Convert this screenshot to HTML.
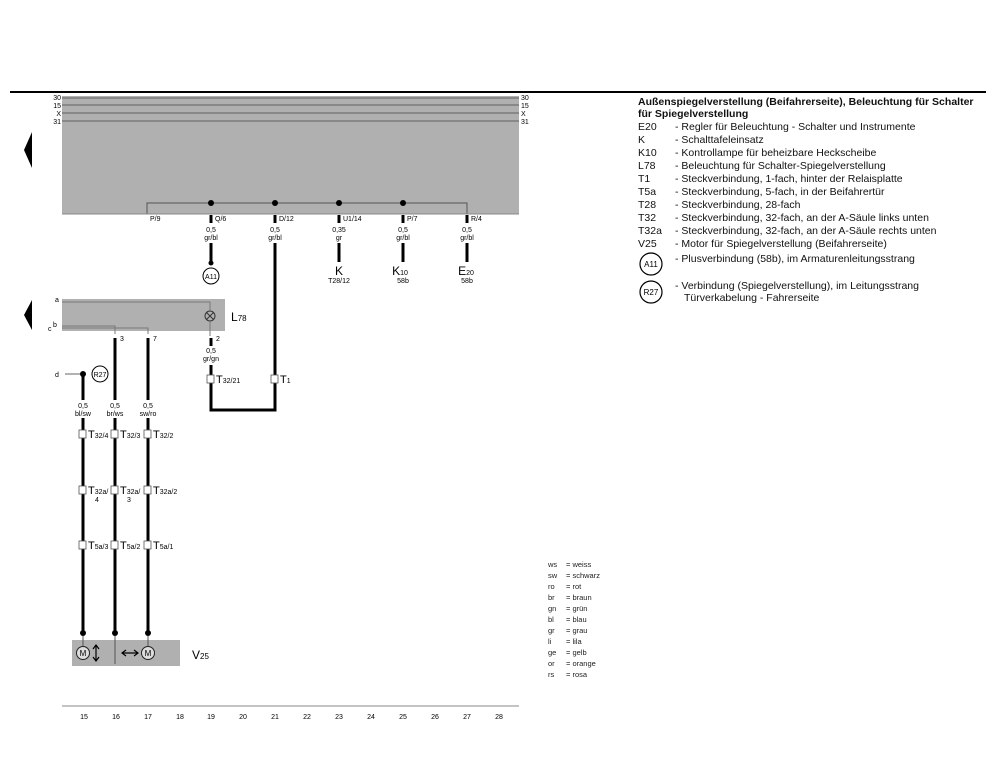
<!DOCTYPE html>
<html><head><meta charset="utf-8"><style>
html,body{margin:0;padding:0;background:#fff;}
svg{display:block;font-family:"Liberation Sans",sans-serif;}
</style></head><body>
<svg width="998" height="778" viewBox="0 0 998 778" xmlns="http://www.w3.org/2000/svg">
<rect x="10" y="91" width="976" height="2" fill="#000"/>
<rect x="62" y="96" width="457" height="118" fill="#b0b0b0"/>
<g stroke="#7a7a7a" stroke-width="1.5">
<line x1="62" y1="98" x2="519" y2="98"/><line x1="62" y1="105" x2="519" y2="105"/>
<line x1="62" y1="113" x2="519" y2="113"/><line x1="62" y1="121" x2="519" y2="121"/>
</g>
<g font-size="7" text-anchor="end">
<text x="61" y="100">30</text><text x="61" y="108">15</text><text x="61" y="116">X</text><text x="61" y="124">31</text>
</g>
<g font-size="7">
<text x="521" y="100">30</text><text x="521" y="108">15</text><text x="521" y="116">X</text><text x="521" y="124">31</text>
</g>
<polygon points="32,132 32,168 24,150" fill="#000"/>
<path d="M147,214 V203 H467 V214" fill="none" stroke="#555" stroke-width="1"/>
<g fill="#000"><circle cx="211" cy="203" r="3"/><circle cx="275" cy="203" r="3"/><circle cx="339" cy="203" r="3"/><circle cx="403" cy="203" r="3"/></g>
<line x1="62" y1="214" x2="519" y2="214" stroke="#888" stroke-width="1"/>
<g font-size="7">
<text x="150" y="221">P/9</text><text x="215" y="221">Q/6</text><text x="279" y="221">D/12</text>
<text x="343" y="221">U1/14</text><text x="407" y="221">P/7</text><text x="471" y="221">R/4</text>
</g>
<g stroke="#000" stroke-width="3">
<line x1="211" y1="215" x2="211" y2="223"/><line x1="275" y1="215" x2="275" y2="223"/>
<line x1="339" y1="215" x2="339" y2="223"/><line x1="403" y1="215" x2="403" y2="223"/>
<line x1="467" y1="215" x2="467" y2="223"/>
<line x1="211" y1="243" x2="211" y2="262"/>
<line x1="339" y1="243" x2="339" y2="262"/><line x1="403" y1="243" x2="403" y2="262"/>
<line x1="467" y1="243" x2="467" y2="262"/>
<line x1="211" y1="338" x2="211" y2="346"/>
</g>
<g font-size="7" text-anchor="middle">
<text x="211" y="232">0,5</text><text x="211" y="240">gr/bl</text>
<text x="275" y="232">0,5</text><text x="275" y="240">gr/bl</text>
<text x="339" y="232">0,35</text><text x="339" y="240">gr</text>
<text x="403" y="232">0,5</text><text x="403" y="240">gr/bl</text>
<text x="467" y="232">0,5</text><text x="467" y="240">gr/bl</text>
</g>
<circle cx="211" cy="263" r="2.5" fill="#000"/>
<circle cx="211" cy="276" r="8" fill="none" stroke="#000" stroke-width="1"/>
<text x="211" y="279" font-size="7" text-anchor="middle">A11</text>
<g text-anchor="middle">
<text x="339" y="275" font-size="12">K</text><text x="339" y="283" font-size="7">T28/12</text>
<text x="400" y="275" font-size="12">K<tspan font-size="7">10</tspan></text><text x="403" y="283" font-size="7">58b</text>
<text x="466" y="275" font-size="12">E<tspan font-size="7">20</tspan></text><text x="467" y="283" font-size="7">58b</text>
</g>
<path d="M275,243 V410 H211 V365" fill="none" stroke="#000" stroke-width="3"/>
<rect x="62" y="299" width="163" height="32" fill="#b0b0b0"/>
<polygon points="32,300 32,330 24,315" fill="#000"/>
<path d="M62,302 H210 V310" fill="none" stroke="#777" stroke-width="1"/>
<path d="M210,322 V336" fill="none" stroke="#777" stroke-width="1"/>
<path d="M62,326 H115 V334 M62,328 H148 V334" fill="none" stroke="#777" stroke-width="1"/>
<circle cx="210" cy="316" r="5" fill="none" stroke="#333" stroke-width="1"/>
<path d="M206.5,312.5 L213.5,319.5 M213.5,312.5 L206.5,319.5" stroke="#333" stroke-width="1"/>
<text x="231" y="321" font-size="12">L<tspan font-size="8">78</tspan></text>
<g font-size="7"><text x="55" y="302">a</text><text x="53" y="327">b</text><text x="48" y="331">c</text><text x="55" y="377">d</text>
<text x="120" y="341">3</text><text x="153" y="341">7</text><text x="216" y="341">2</text></g>
<g font-size="7" text-anchor="middle"><text x="211" y="353">0,5</text><text x="211" y="361">gr/gn</text></g>
<line x1="65" y1="374" x2="83" y2="374" stroke="#666" stroke-width="1"/>
<circle cx="83" cy="374" r="3" fill="#000"/>
<circle cx="100" cy="374" r="8" fill="none" stroke="#000" stroke-width="1"/>
<text x="100" y="377" font-size="7" text-anchor="middle">R27</text>
<g stroke="#000" stroke-width="3">
<line x1="83" y1="374" x2="83" y2="400"/><line x1="83" y1="418" x2="83" y2="633"/>
<line x1="115" y1="338" x2="115" y2="400"/><line x1="115" y1="418" x2="115" y2="633"/>
<line x1="148" y1="338" x2="148" y2="400"/><line x1="148" y1="418" x2="148" y2="633"/>
</g>
<g font-size="7" text-anchor="middle">
<text x="83" y="408">0,5</text><text x="83" y="416">bl/sw</text>
<text x="115" y="408">0,5</text><text x="115" y="416">br/ws</text>
<text x="148" y="408">0,5</text><text x="148" y="416">sw/ro</text>
</g>
<g fill="#fff" stroke="#555" stroke-width="0.8">
<rect x="79" y="430" width="7" height="8"/><rect x="111" y="430" width="7" height="8"/><rect x="144" y="430" width="7" height="8"/>
<rect x="79" y="486" width="7" height="8"/><rect x="111" y="486" width="7" height="8"/><rect x="144" y="486" width="7" height="8"/>
<rect x="79" y="541" width="7" height="8"/><rect x="111" y="541" width="7" height="8"/><rect x="144" y="541" width="7" height="8"/>
<rect x="207" y="375" width="7" height="8"/><rect x="271" y="375" width="7" height="8"/>
</g>
<g font-size="11">
<text x="88" y="438">T<tspan font-size="7">32/4</tspan></text>
<text x="120" y="438">T<tspan font-size="7">32/3</tspan></text>
<text x="153" y="438">T<tspan font-size="7">32/2</tspan></text>
<text x="88" y="494">T<tspan font-size="7">32a/</tspan></text>
<text x="120" y="494">T<tspan font-size="7">32a/</tspan></text>
<text x="153" y="494">T<tspan font-size="7">32a/2</tspan></text>
<text x="88" y="549">T<tspan font-size="7">5a/3</tspan></text>
<text x="120" y="549">T<tspan font-size="7">5a/2</tspan></text>
<text x="153" y="549">T<tspan font-size="7">5a/1</tspan></text>
<text x="216" y="383">T<tspan font-size="7">32/21</tspan></text>
<text x="280" y="383">T<tspan font-size="7">1</tspan></text>
</g>
<g font-size="7"><text x="95" y="502">4</text><text x="127" y="502">3</text></g>
<g fill="#000"><circle cx="83" cy="633" r="3"/><circle cx="115" cy="633" r="3"/><circle cx="148" cy="633" r="3"/></g>
<rect x="72" y="640" width="108" height="26" fill="#b0b0b0"/>
<line x1="115" y1="636" x2="115" y2="664" stroke="#555" stroke-width="1"/>
<line x1="83" y1="636" x2="83" y2="646" stroke="#555" stroke-width="1"/>
<line x1="148" y1="636" x2="148" y2="646" stroke="#555" stroke-width="1"/>
<circle cx="83" cy="653" r="6.5" fill="#ddd" stroke="#222" stroke-width="1"/>
<circle cx="148" cy="653" r="6.5" fill="#ddd" stroke="#222" stroke-width="1"/>
<g font-size="8" text-anchor="middle"><text x="83" y="656">M</text><text x="148" y="656">M</text></g>
<path d="M96,646 V660 M93,649 L96,645 L99,649 M93,657 L96,661 L99,657" fill="none" stroke="#000" stroke-width="1.2"/>
<path d="M123,653 H137 M126,650 L122,653 L126,656 M134,650 L138,653 L134,656" fill="none" stroke="#000" stroke-width="1.2"/>
<text x="192" y="659" font-size="12">V<tspan font-size="8">25</tspan></text>
<line x1="62" y1="706" x2="519" y2="706" stroke="#888" stroke-width="1"/>
<g font-size="7" text-anchor="middle">
<text x="84" y="719">15</text><text x="116" y="719">16</text><text x="148" y="719">17</text><text x="180" y="719">18</text>
<text x="211" y="719">19</text><text x="243" y="719">20</text><text x="275" y="719">21</text><text x="307" y="719">22</text>
<text x="339" y="719">23</text><text x="371" y="719">24</text><text x="403" y="719">25</text><text x="435" y="719">26</text>
<text x="467" y="719">27</text><text x="499" y="719">28</text>
</g>
<g font-size="7.5" fill="#222">
<text x="548" y="567">ws</text><text x="548" y="578">sw</text><text x="548" y="589">ro</text><text x="548" y="600">br</text>
<text x="548" y="611">gn</text><text x="548" y="622">bl</text><text x="548" y="633">gr</text><text x="548" y="644">li</text>
<text x="548" y="655">ge</text><text x="548" y="666">or</text><text x="548" y="677">rs</text>
<text x="566" y="567">=  weiss</text><text x="566" y="578">=  schwarz</text><text x="566" y="589">=  rot</text><text x="566" y="600">=  braun</text>
<text x="566" y="611">=  grün</text><text x="566" y="622">=  blau</text><text x="566" y="633">=  grau</text><text x="566" y="644">=  lila</text>
<text x="566" y="655">=  gelb</text><text x="566" y="666">=  orange</text><text x="566" y="677">=  rosa</text>
</g>
<g font-size="10.5" fill="#111">
<text x="638" y="105" font-weight="bold">Außenspiegelverstellung (Beifahrerseite), Beleuchtung für Schalter</text>
<text x="638" y="117" font-weight="bold">für Spiegelverstellung</text>
<text x="638" y="130">E20</text><text x="675" y="130">-  Regler für Beleuchtung - Schalter und Instrumente</text>
<text x="638" y="143">K</text><text x="675" y="143">-  Schalttafeleinsatz</text>
<text x="638" y="156">K10</text><text x="675" y="156">-  Kontrollampe für beheizbare Heckscheibe</text>
<text x="638" y="169">L78</text><text x="675" y="169">-  Beleuchtung für Schalter-Spiegelverstellung</text>
<text x="638" y="182">T1</text><text x="675" y="182">-  Steckverbindung, 1-fach, hinter der Relaisplatte</text>
<text x="638" y="195">T5a</text><text x="675" y="195">-  Steckverbindung, 5-fach, in der Beifahrertür</text>
<text x="638" y="208">T28</text><text x="675" y="208">-  Steckverbindung, 28-fach</text>
<text x="638" y="221">T32</text><text x="675" y="221">-  Steckverbindung, 32-fach, an der A-Säule links unten</text>
<text x="638" y="234">T32a</text><text x="675" y="234">-  Steckverbindung, 32-fach, an der A-Säule rechts unten</text>
<text x="638" y="247">V25</text><text x="675" y="247">-  Motor für Spiegelverstellung (Beifahrerseite)</text>
<text x="675" y="262">-  Plusverbindung (58b), im Armaturenleitungsstrang</text>
<text x="675" y="289">-  Verbindung (Spiegelverstellung), im Leitungsstrang</text>
<text x="684" y="301">Türverkabelung - Fahrerseite</text>
</g>
<circle cx="651" cy="264" r="11" fill="none" stroke="#000" stroke-width="1.2"/>
<text x="651" y="267" font-size="8" text-anchor="middle">A11</text>
<circle cx="651" cy="292" r="11" fill="none" stroke="#000" stroke-width="1.2"/>
<text x="651" y="295" font-size="8" text-anchor="middle">R27</text>
</svg>
</body></html>
